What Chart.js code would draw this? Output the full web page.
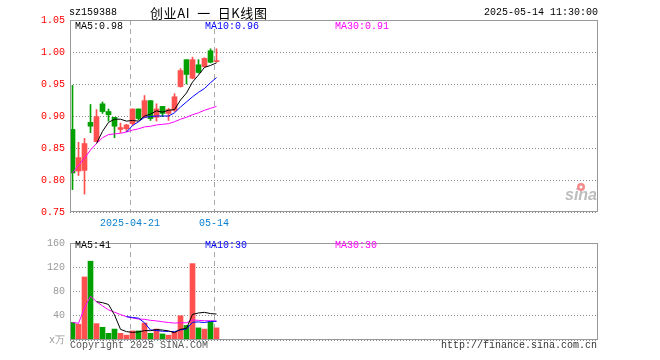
<!DOCTYPE html>
<html>
<head>
<meta charset="utf-8">
<script src="https://cdn.jsdelivr.net/npm/chart.js@4.4.1/dist/chart.umd.min.js"></script>
<style>
  body { margin: 0; width: 660px; height: 360px; background: #fff; position: relative; overflow: hidden;
         font: 10px "Liberation Mono", monospace; color: #000; }
  canvas { position: absolute; left: 0; }
  .t { position: absolute; white-space: pre; line-height: 12px; }
</style>
</head>
<body>
<canvas id="kline" width="660" height="232" style="top:0"></canvas>
<canvas id="volume" width="660" height="128" style="top:232px"></canvas>

<div class="t" style="left:69px;top:7px">sz159388</div>
<div class="t" style="left:150px;top:5px;font:13px 'Noto Sans CJK SC';line-height:16px;letter-spacing:0.6px">创业AI  一  日K线图</div>
<div class="t" style="left:484px;top:7px">2025-05-14 11:30:00</div>

<div class="t" style="left:75px;top:21px">MA5:0.98</div>
<div class="t" style="left:205px;top:21px;color:#0000ff">MA10:0.96</div>
<div class="t" style="left:335px;top:21px;color:#ff00ff">MA30:0.91</div>

<div class="t" style="left:75px;top:240px">MA5:41</div>
<div class="t" style="left:205px;top:240px;color:#0000ff">MA10:30</div>
<div class="t" style="left:335px;top:240px;color:#ff00ff">MA30:30</div>

<div class="t" style="left:70px;top:340px;color:#555">Copyright 2025 SINA.COM</div>
<div class="t" style="left:441px;top:340px;color:#333">http://finance.sina.com.cn</div>

<script>
// daily candles, 2025-04-07 .. 2025-05-14
const open  = [0.879, 0.814, 0.815, 0.890, 0.860, 0.919, 0.907, 0.898, 0.879, 0.880,
               0.888, 0.911, 0.898, 0.924, 0.898, 0.915, 0.904, 0.909, 0.946, 0.988,
               0.959, 0.980, 0.977, 1.002, 0.985];
const close = [0.811, 0.835, 0.857, 0.884, 0.899, 0.907, 0.902, 0.884, 0.882, 0.886,
               0.911, 0.896, 0.924, 0.896, 0.911, 0.904, 0.910, 0.930, 0.971, 0.965,
               0.988, 0.968, 0.990, 0.984, 0.986];
const high  = [0.948, 0.859, 0.865, 0.918, 0.910, 0.922, 0.911, 0.898, 0.889, 0.887,
               0.911, 0.911, 0.932, 0.924, 0.919, 0.915, 0.912, 0.935, 0.974, 0.988,
               0.992, 0.988, 0.991, 1.005, 1.005];
const low   = [0.785, 0.807, 0.778, 0.874, 0.860, 0.904, 0.892, 0.866, 0.874, 0.876,
               0.885, 0.894, 0.897, 0.893, 0.892, 0.899, 0.893, 0.907, 0.945, 0.950,
               0.958, 0.967, 0.976, 0.983, 0.984];

const ma5  = [null, null, null, null, 0.857, 0.876, 0.890, 0.895, 0.895, 0.892,
              0.893, 0.892, 0.900, 0.903, 0.908, 0.906, 0.909, 0.910, 0.925, 0.936,
              0.953, 0.964, 0.976, 0.979, 0.983];
const ma10 = [null, null, null, null, null, null, null, null, null, 0.875,
              0.885, 0.891, 0.898, 0.899, 0.900, 0.900, 0.900, 0.905, 0.914, 0.922,
              0.930, 0.937, 0.943, 0.952, 0.960];
const ma30 = [0.811, 0.823, 0.834, 0.847, 0.857, 0.866, 0.871, 0.872, 0.873, 0.875,
              0.878, 0.880, 0.883, 0.884, 0.886, 0.887, 0.888, 0.891, 0.895, 0.898,
              0.902, 0.905, 0.909, 0.912, 0.915];

// volume, in 10k
const vol   = [29, 26, 104, 130, 27, 21, 11, 18, 11, 8,
               15, 15, 28, 11, 18, 10, 8, 13, 40, 24,
               126, 20, 18, 30, 20];
const vma5  = [null, null, null, null, 63.2, 61.6, 58.6, 41.4, 17.6, 13.8,
               12.6, 13.4, 15.4, 15.4, 17.4, 16.4, 15.0, 12.0, 17.8, 19.0,
               42.2, 44.6, 45.6, 43.6, 42.8];
const vma10 = [null, null, null, null, null, null, null, null, null, 38.5,
               37.1, 36.0, 28.4, 16.5, 15.6, 14.5, 14.2, 13.7, 16.6, 18.2,
               29.3, 29.8, 28.8, 30.7, 30.9];
const vma30 = [29.0, 27.5, 53.0, 72.3, 63.2, 56.2, 49.7, 45.8, 41.9, 38.5,
               36.4, 34.6, 34.1, 32.4, 31.5, 30.1, 28.8, 27.9, 28.6, 28.4,
               33.0, 32.4, 31.8, 31.7, 31.2];

const tickDays   = [10, 24];
const tickLabels = ['2025-04-21', '05-14'];
const priceMin = 0.75, priceMax = 1.05, priceStep = 0.05;
const volMax = 160, volStep = 40, volUnit = 'x万';

const UP = '#ff5050', DOWN = '#00a000';
const mono = { family: 'Liberation Mono', size: 10 };

// 6px per trading day over a 528px wide plot
const xMin = -2.5 / 6, xMax = xMin + 88;

const colors = open.map((o, i) => (close[i] >= o ? UP : DOWN));
const pts = arr => arr.map((v, i) => ({ x: i, y: v }));

const frame = {
  id: 'frame',
  afterDraw(chart) {
    const { ctx, chartArea: a } = chart;
    ctx.save();
    ctx.strokeStyle = '#999';
    ctx.lineWidth = 1;
    ctx.strokeRect(a.left + 0.5, a.top + 0.5, a.right - a.left - 1, a.bottom - a.top - 1);
    ctx.restore();
  }
};

const sinaLogo = {
  id: 'sinaLogo',
  afterDraw(chart) {
    const { ctx, chartArea: a } = chart;
    ctx.save();
    ctx.font = 'italic bold 16px "Liberation Sans"';
    ctx.fillStyle = '#bdbdbd';
    ctx.textAlign = 'right';
    ctx.fillText('sina', a.right - 1, a.bottom - 12);
    ctx.fillStyle = '#f28b8b';
    ctx.beginPath();
    ctx.arc(a.right - 17, a.bottom - 25, 4, 0, Math.PI * 2);
    ctx.fill();
    ctx.fillStyle = '#fff';
    ctx.beginPath();
    ctx.arc(a.right - 17, a.bottom - 25, 1.5, 0, Math.PI * 2);
    ctx.fill();
    ctx.restore();
  }
};

const xScale = (showLabels) => ({
  type: 'linear', min: xMin, max: xMax, offset: false,
  grid: { color: '#aaa', drawTicks: false, offset: false },
  border: { display: false, dash: [5, 4] },
  afterBuildTicks: s => { s.ticks = tickDays.map(d => ({ value: d - 0.4 })); },
  ticks: {
    display: showLabels, autoSkip: false, maxRotation: 0, padding: 5,
    color: '#0a80d0', font: mono, callback: (v, i) => tickLabels[i]
  },
  afterFit: s => { s.height = showLabels ? 20 : 0; }
});

const maLine = (data, color) => ({
  type: 'line', data: pts(data), borderColor: color, borderWidth: 1,
  pointRadius: 0, tension: 0, order: 0
});

const common = {
  responsive: false, animation: false, events: [],
  plugins: { legend: { display: false }, tooltip: { enabled: false } }
};

new Chart(document.getElementById('kline'), {
  type: 'bar',
  data: {
    datasets: [
      maLine(ma5, '#000000'),
      maLine(ma10, '#0000ff'),
      maLine(ma30, '#ff00ff'),
      {
        data: open.map((o, i) => ({ x: i, y: [o, close[i]] })),
        backgroundColor: colors, barThickness: 5, minBarLength: 1, grouped: false, order: 1
      },
      {
        data: open.map((o, i) => ({ x: i, y: [low[i], high[i]] })),
        backgroundColor: colors, barThickness: 1, grouped: false, order: 2
      }
    ]
  },
  options: {
    ...common,
    layout: { padding: { top: 20, right: 62, left: 0, bottom: 0 } },
    scales: {
      x: xScale(true),
      y: {
        min: priceMin, max: priceMax,
        grid: { color: '#888', drawTicks: false },
        border: { display: false, dash: [1, 2] },
        ticks: { stepSize: priceStep, padding: 5, color: '#ff0000', font: mono,
                 callback: v => v.toFixed(2) },
        afterFit: s => { s.width = 70; }
      }
    }
  },
  plugins: [frame, sinaLogo]
});

new Chart(document.getElementById('volume'), {
  type: 'bar',
  data: {
    datasets: [
      maLine(vma5, '#000000'),
      maLine(vma10, '#0000ff'),
      maLine(vma30, '#ff00ff'),
      {
        data: vol.map((v, i) => ({ x: i, y: v })),
        backgroundColor: colors, barThickness: 5, grouped: false, order: 1
      }
    ]
  },
  options: {
    ...common,
    layout: { padding: { top: 8, right: 62, left: 0, bottom: 20 } },
    scales: {
      x: xScale(false),
      y: {
        min: 0, max: volMax,
        grid: { color: '#888', drawTicks: false },
        border: { display: false, dash: [1, 2] },
        ticks: { stepSize: volStep, padding: 5, color: '#999', font: mono,
                 callback: v => (v === 0 ? volUnit : v) },
        afterFit: s => { s.width = 70; }
      }
    }
  },
  plugins: [frame]
});
</script>
</body>
</html>
